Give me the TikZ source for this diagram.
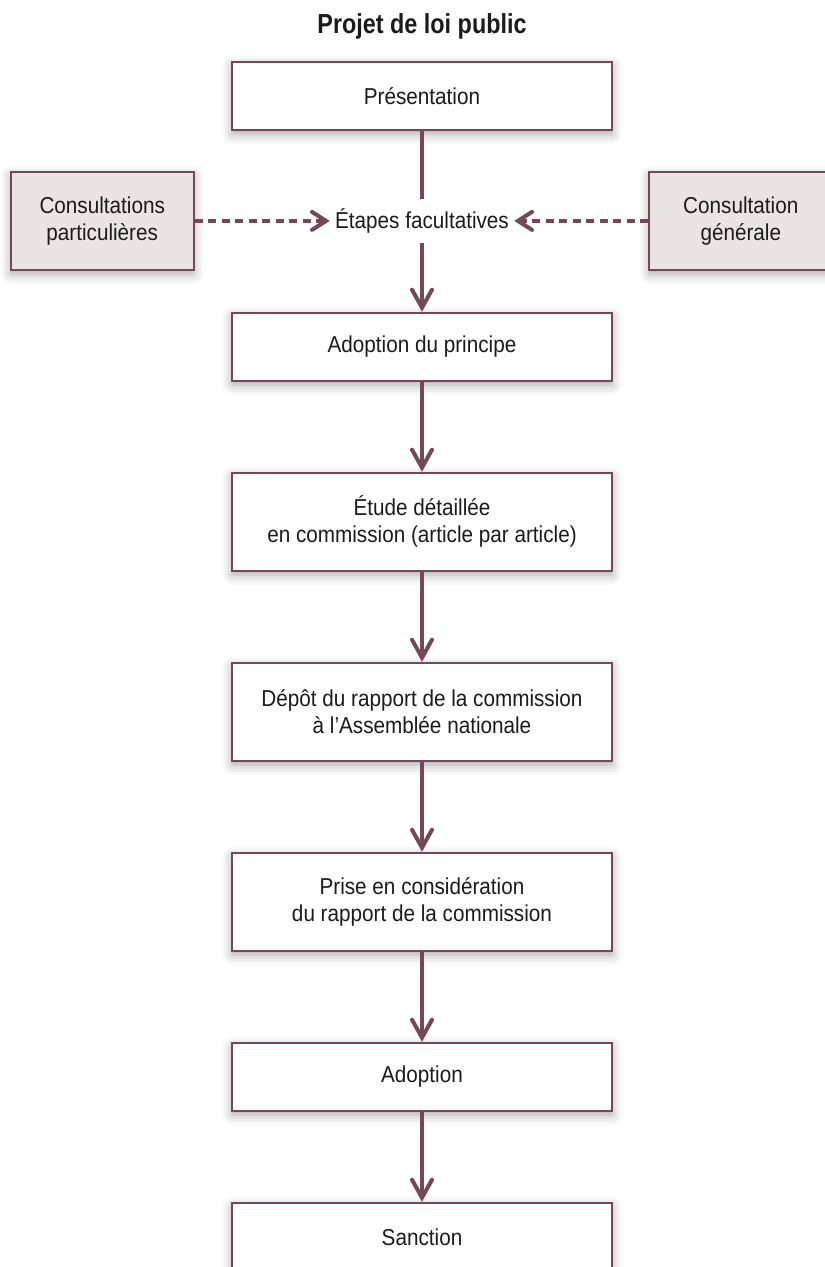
\documentclass[tikz,border=0pt]{standalone}
\usepackage{fontspec}
\setmainfont{Liberation Sans}[FakeStretch=0.9]
\newfontfamily\titrefont{Liberation Sans}[FakeStretch=0.85]
\usetikzlibrary{positioning}
\usetikzlibrary{arrows.meta}
\usetikzlibrary{shadows.blur}

\definecolor{mauve}{RGB}{116,72,86}
\definecolor{rose}{RGB}{234,228,229}
\definecolor{encre}{RGB}{30,26,28}

\begin{document}
\begin{tikzpicture}[node distance=45pt, text=encre,
font=\fontsize{11.5}{13.5}\selectfont,
etape/.style={draw=mauve, line width=1pt, fill=white, align=center, inner sep=0pt,
  minimum width=190pt, minimum height=34pt,
  blur shadow={shadow xshift=0pt, shadow yshift=-2pt, shadow blur radius=5pt, shadow opacity=35}},
etapedouble/.style={etape, minimum height=49pt},
consult/.style={etape, fill=rose, minimum width=91.5pt, minimum height=49pt},
ligne/.style={mauve, line width=2pt},
fleche/.style={ligne, -{Straight Barb[length=9pt, width=10pt, line cap=round]}},
pointille/.style={mauve, line width=2pt, dash pattern=on 4pt off 2.75pt,
  -{Straight Barb[length=7pt, width=9pt, line cap=round]}}
]
\useasboundingbox (0,0) rectangle (412pt,-633.5pt);

%create nodes
\node[etape] (pres) at (211pt,-48pt) {Présentation};
\node[anchor=base, font=\titrefont\bfseries\fontsize{13.75}{16}\selectfont] (titre)
  at ([yshift=13.5pt]pres.north) {Projet de loi public};
\node[below=34pt of pres, minimum height=21.5pt, inner ysep=0pt, inner xsep=2.5pt] (facult)
  {Étapes facultatives};
\node[consult, left=67.5pt of facult] (partic) {Consultations\\particulières};
\node[consult, right=67pt of facult] (generale) {Consultation\\générale};

\node[etape, below=34.5pt of facult] (principe) {Adoption du principe};
\node[etapedouble, below=of principe] (etude) {Étude détaillée\\en commission (article par article)};
\node[etapedouble, below=of etude] (depot) {Dépôt du rapport de la commission\\à l’Assemblée nationale};
\node[etapedouble, below=of depot] (prise) {Prise en considération\\du rapport de la commission};
\node[etape, below=of prise] (adoption) {Adoption};
\node[etape, below=of adoption] (sanction) {Sanction};

%draw paths
\draw[ligne] (pres.south) -- (facult.north);
\draw[fleche] (facult.south) -- (principe.north);
\draw[fleche] (principe.south) -- (etude.north);
\draw[fleche] (etude.south) -- (depot.north);
\draw[fleche] (depot.south) -- (prise.north);
\draw[fleche] (prise.south) -- (adoption.north);
\draw[fleche] (adoption.south) -- (sanction.north);

\draw[pointille] (partic.east) -- (facult.west);
\draw[pointille] (generale.west) -- (facult.east);

\end{tikzpicture}
\end{document}
